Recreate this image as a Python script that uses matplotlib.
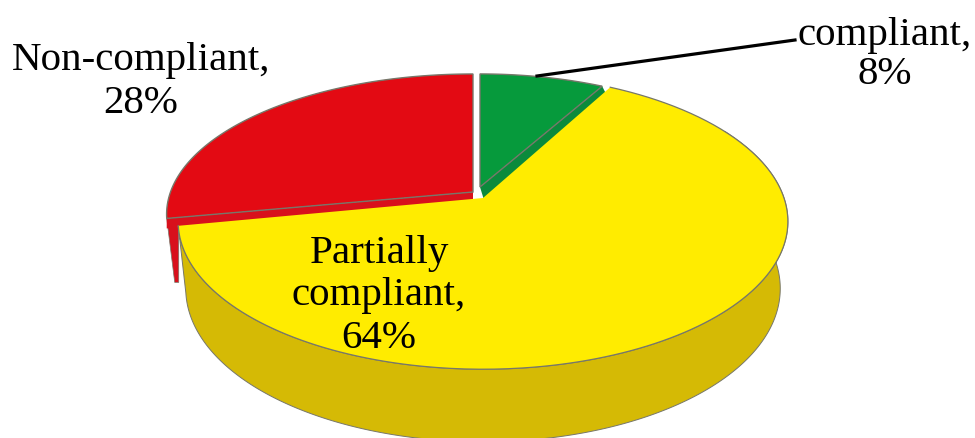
import numpy as np
import matplotlib.pyplot as plt

categories = ['compliant,\n8%', 'Partially\ncompliant,\n64%', 'Non-compliant,\n28%']
shares = [8, 64, 28]
colors = ['#069a3c', '#ffec00', '#e30a13']
wall_colors = ['#0b8a3c', '#d5ba05', '#d8101c']

plt.rcParams['font.family'] = ['Liberation Serif', 'DejaVu Serif']

# perspective of the tilted disc, in pixels
RX = 301
RY = 144
TILT = -0.159
DEPTH = 66
EDGE = '#77776a'


def project(ang, cx, cy, sx=1.0, sy=1.0, depth=0.0):
    # ang in degrees clockwise from 12 o'clock
    x = np.sin(np.radians(ang))
    y = np.cos(np.radians(ang))
    den = 1 - TILT * y
    shrink = 1 - 0.025 * depth / DEPTH
    return cx + sx * RX * x / den * shrink, cy - sy * RY * y / den + depth * (1 - 0.1 * y)


fig = plt.figure(figsize=(9.75, 4.38), dpi=100)
ax = fig.add_axes([0, 0, 1, 1])
ax.set_xlim(0, 975)
ax.set_ylim(438, 0)
ax.axis('off')

edges = np.cumsum([0] + shares) * 3.6
# apex x, apex y, x scale, y scale of each slice
places = [(480, 187, 0.96, 0.91), (483, 198, 1.0, 1.0), (473, 192, 1.005, 0.95)]

# red outer wall, mostly behind the yellow one
px, py = project(edges[2], *places[2])
ax.fill([px, px + 8, px + 12, px + 12], [py, py + 64, py + 64, py + 5],
        color=wall_colors[2], ec=EDGE, lw=0.5, zorder=1)

# red and green inner walls, seen past the cuts
ax.fill([places[2][0], px, px, places[2][0]], [places[2][1], py, py + 10, places[2][1] + 10],
        color=wall_colors[2], lw=0, zorder=1)
gx, gy = project(edges[1], *places[0])
ax.fill([places[0][0], gx, gx + 4, places[0][0] + 4], [places[0][1], gy, gy + 8, places[0][1] + 13],
        color=wall_colors[0], lw=0, zorder=1)

# yellow outer wall
t = np.linspace(60, edges[2], 300)
x0, y0 = project(t, *places[1])
x1, y1 = project(t, *places[1], depth=DEPTH)
ax.fill(np.r_[x0, x1[::-1]], np.r_[y0, y1[::-1]], facecolor=wall_colors[1],
        edgecolor=EDGE, lw=0.7, zorder=2)

for i in [2, 0, 1]:
    t = np.linspace(edges[i], edges[i + 1], 300)
    x, y = project(t, *places[i])
    cx, cy = places[i][:2]
    if i == 1:
        ax.fill(np.r_[cx, x], np.r_[cy, y], facecolor=colors[i], lw=0, zorder=3)
        ax.plot(x, y, color=EDGE, lw=0.9, zorder=3)
    else:
        ax.fill(np.r_[cx, x], np.r_[cy, y], facecolor=colors[i], edgecolor=EDGE, lw=1.0, zorder=2)

# leader for the green slice
ax.plot([537, 795], [76, 40], color='black', lw=2.3, zorder=5)

ax.text(885, 55, categories[0], ha='center', va='center', fontsize=29.5, linespacing=1.1)
ax.text(379, 296, categories[1], ha='center', va='center', fontsize=29.5, linespacing=1.2, zorder=6)
ax.text(141, 82, categories[2], ha='center', va='center', fontsize=29.5, linespacing=1.2)

fig.savefig('out.png', dpi=100)
